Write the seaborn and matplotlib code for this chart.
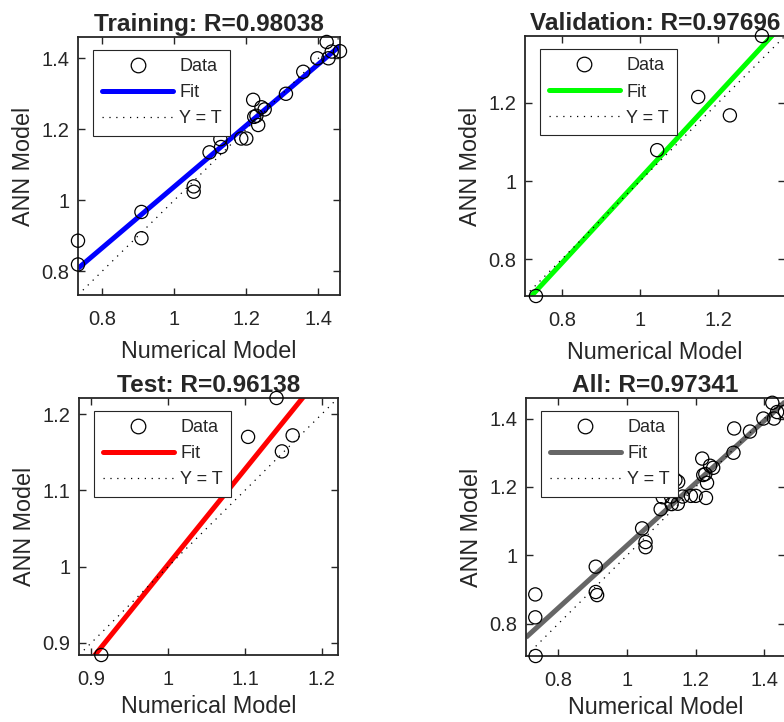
import numpy as np
import matplotlib
matplotlib.use("Agg")
import matplotlib.pyplot as plt
from matplotlib.lines import Line2D
from matplotlib.ticker import FixedLocator, FormatStrFormatter
import seaborn as sns

# ---------------- data ----------------
train_t = [0.733, 0.733, 0.909, 0.909, 1.054, 1.054, 1.098, 1.130, 1.128, 1.186,
           1.200, 1.219, 1.222, 1.228, 1.233, 1.242, 1.251, 1.310, 1.358, 1.397,
           1.423, 1.428, 1.437, 1.460]
train_y = [0.886, 0.819, 0.967, 0.893, 1.039, 1.024, 1.135, 1.150, 1.172, 1.174,
           1.174, 1.283, 1.235, 1.238, 1.212, 1.262, 1.256, 1.300, 1.362, 1.400,
           1.446, 1.400, 1.419, 1.420]
val_t = [0.734, 1.044, 1.149, 1.230, 1.312]
val_y = [0.706, 1.079, 1.215, 1.168, 1.371]
test_t = [0.913, 1.104, 1.141, 1.148, 1.162]
test_y = [0.884, 1.170, 1.221, 1.151, 1.172]

titles = ["Training: R=0.98038", "Validation: R=0.97696",
          "Test: R=0.96138", "All: R=0.97341"]
fit_colors = ["#0000ff", "#00ff00", "#ff0000", "#666666"]
tick_sets = [[0.8, 1.0, 1.2, 1.4], [0.8, 1.0, 1.2, 1.4],
             [0.9, 1.0, 1.1, 1.2], [0.8, 1.0, 1.2, 1.4]]
x_label = "Numerical Model"
y_label = "ANN Model"

all_t = train_t + val_t + test_t
all_y = train_y + val_y + test_y
sets = [(train_t, train_y), (val_t, val_y), (test_t, test_y), (all_t, all_y)]

# ---------------- style ----------------
sns.set_style("ticks")
plt.rcParams["font.family"] = ["Liberation Sans", "DejaVu Sans"]
dark = "#262626"
dots = (0, (1, 4.5))

fig = plt.figure(figsize=(7.84, 7.22), dpi=100)
W, H = 784.0, 722.0
boxes = [(78, 340, 37, 295), (525, 785, 36, 296),
         (79, 338, 398, 655), (526, 785, 398, 656)]
xlabelpads = [8, 8, 4.5, 4.5]

for i, ((t, y), (l, r, tp, b)) in enumerate(zip(sets, boxes)):
    ax = fig.add_axes([l / W, 1 - b / H, (r - l) / W, (b - tp) / H])
    t = np.asarray(t); y = np.asarray(y)
    lo = min(t.min(), y.min()); hi = max(t.max(), y.max())
    ax.set_xlim(lo, hi); ax.set_ylim(lo, hi)

    sns.regplot(x=t, y=y, ax=ax, scatter=False, ci=None, truncate=False,
                line_kws=dict(color=fit_colors[i], lw=3.6, solid_capstyle="butt"))
    sns.lineplot(x=[lo, hi], y=[lo, hi], ax=ax, color="black", lw=0.9,
                 linestyle=dots)
    sns.scatterplot(x=t, y=y, ax=ax, s=90, facecolor="none",
                    edgecolor="black", linewidth=0.9, clip_on=False, zorder=5)
    ax.set_xlim(lo, hi); ax.set_ylim(lo, hi)

    ax.xaxis.set_major_locator(FixedLocator(tick_sets[i]))
    ax.yaxis.set_major_locator(FixedLocator(tick_sets[i]))
    ax.xaxis.set_major_formatter(FormatStrFormatter("%g"))
    ax.yaxis.set_major_formatter(FormatStrFormatter("%g"))
    ax.tick_params(direction="in", top=True, right=True, length=5, width=1.0,
                   labelsize=14.5, colors=dark)
    ax.tick_params(axis="x", pad=10.5)
    ax.tick_params(axis="y", pad=6)
    for sp in ax.spines.values():
        sp.set_visible(True); sp.set_color(dark); sp.set_linewidth(1.3)

    ax.set_xlabel(x_label, fontsize=16.8, color=dark, labelpad=xlabelpads[i])
    ax.set_ylabel(y_label, fontsize=16.8, color=dark, labelpad=5)
    ax.set_title(titles[i], fontsize=17.6, fontweight="bold", pad=4.5)

    handles = [Line2D([], [], marker="o", ls="none", markersize=10.5,
                      markerfacecolor="none", markeredgecolor="black",
                      markeredgewidth=0.9),
               Line2D([], [], color=fit_colors[i], lw=3.6),
               Line2D([], [], color="black", lw=0.9, ls=dots)]
    leg = ax.legend(handles, ["Data", "Fit", "Y = T"], loc="upper left",
                    bbox_to_anchor=(0.058, 0.950), borderaxespad=0,
                    fontsize=13, handlelength=3.97, handletextpad=0.33,
                    labelspacing=0.5, borderpad=0.47, fancybox=False,
                    framealpha=1, edgecolor=dark)
    leg.get_frame().set_linewidth(0.8)
    leg.set_zorder(10)

fig.savefig("out.png", dpi=100)
